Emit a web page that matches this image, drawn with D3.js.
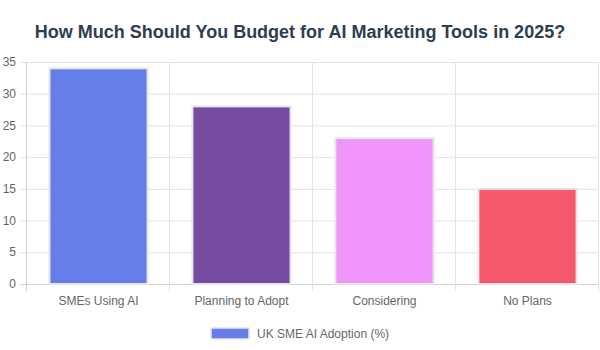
<!DOCTYPE html>
<html><head><meta charset="utf-8">
<script src="https://cdn.jsdelivr.net/npm/d3@7"></script>
<style>body{margin:0;background:#fff}svg{display:block}</style>
</head><body>
<svg id="c" width="600" height="350"></svg>
<script>
const categories = ["SMEs Using AI", "Planning to Adopt", "Considering", "No Plans"];
const values = [34, 28, 23, 15];
const colors = ["#667eea", "#764ba2", "#f093fb", "#f5576c"];
const yTicks = [0, 5, 10, 15, 20, 25, 30, 35];
const seriesName = "UK SME AI Adoption (%)";
const title = "How Much Should You Budget for AI Marketing Tools in 2025?";

const svg = d3.select("#c");
const font = "'Liberation Sans', Arial, Helvetica, sans-serif";
const m = {l: 27, r: 1, t: 62, b: 66};
const W = 600, H = 350;
const x = d3.scaleBand().domain(categories).range([m.l, W - m.r]).paddingInner(0).paddingOuter(0);
const y = d3.scaleLinear().domain([0, 35]).range([H - m.b, m.t]);

svg.append("text").attr("x", W/2).attr("y", 38).attr("text-anchor", "middle")
  .attr("font-family", font).attr("font-weight", "bold").attr("font-size", 18)
  .attr("fill", "#2c3e50").text(title);

// horizontal grid
const g = svg.append("g");
g.selectAll("line.h").data(yTicks).join("line")
  .attr("x1", m.l - 7).attr("x2", W - m.r)
  .attr("y1", d => y(d) + 0.5).attr("y2", d => y(d) + 0.5)
  .attr("stroke", d => d === 0 ? "#d0d0d0" : "#e2e2e2").attr("stroke-width", 1);
// vertical grid
const vx = categories.map(c => x(c)).concat([W - m.r]);
g.selectAll("line.v").data(vx).join("line")
  .attr("x1", d => Math.round(d) - 0.5).attr("x2", d => Math.round(d) - 0.5)
  .attr("y1", m.t).attr("y2", H - m.b + 7)
  .attr("stroke", (d, i) => i === 0 ? "#d0d0d0" : "#e2e2e2").attr("stroke-width", 1);

// y labels
svg.selectAll("text.yl").data(yTicks).join("text")
  .attr("x", 16).attr("y", d => y(d)).attr("dy", "0.35em").attr("text-anchor", "end")
  .attr("font-family", font).attr("font-size", 12).attr("fill", "#666").text(d => d);

// bars
const bw = x.bandwidth() * 0.7;
svg.selectAll("rect.bar").data(values).join("rect")
  .attr("x", (d, i) => x(categories[i]) + (x.bandwidth() - bw) / 2 + 1)
  .attr("width", bw - 2)
  .attr("y", d => y(d))
  .attr("height", d => y(0) - y(d))
  .attr("fill", (d, i) => colors[i])
  .attr("stroke", "#e6e6e6").attr("stroke-width", 2);

// x labels
svg.selectAll("text.xl").data(categories).join("text")
  .attr("x", d => x(d) + x.bandwidth() / 2).attr("y", H - m.b + 21)
  .attr("text-anchor", "middle").attr("font-family", font).attr("font-size", 12)
  .attr("fill", "#666").text(d => d);

// legend
const lg = svg.append("g");
lg.append("rect").attr("x", 211).attr("y", 328).attr("width", 38).attr("height", 11)
  .attr("fill", colors[0]).attr("stroke", "#e6e6e6").attr("stroke-width", 1.5);
lg.append("text").attr("x", 257).attr("y", 334).attr("dy", "0.35em")
  .attr("font-family", font).attr("font-size", 12).attr("fill", "#666").text(seriesName);
</script>
</body></html>
